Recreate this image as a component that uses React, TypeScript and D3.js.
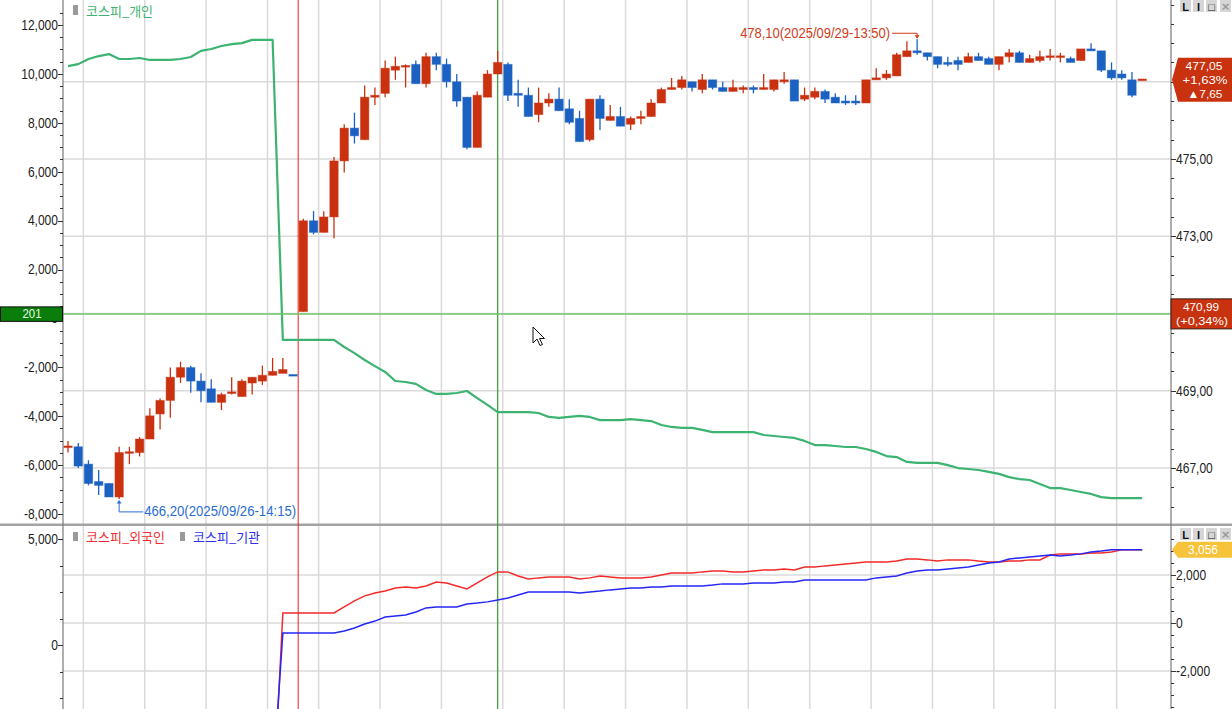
import React from "react";
import * as d3 from "d3";

// ---------------- data ----------------
const day1Date = "2025/09/26";
const day2Date = "2025/09/29";
const day1StartTime = "13:50";
const day2StartTime = "08:50";
const candleMinutes = 5;

// [open, high, low, close]
const day1Ohlc: number[][] = [
  [467.55, 467.7, 467.4, 467.55],
  [467.55, 467.65, 467.0, 467.05],
  [467.1, 467.2, 466.55, 466.6],
  [466.65, 466.95, 466.3, 466.55],
  [466.6, 466.6, 466.25, 466.25],
  [466.25, 467.55, 466.2, 467.4],
  [467.4, 467.55, 467.1, 467.4],
  [467.4, 467.8, 467.3, 467.75],
  [467.75, 468.55, 467.75, 468.35],
  [468.4, 468.8, 468.0, 468.75],
  [468.75, 469.6, 468.3, 469.35],
  [469.35, 469.75, 469.2, 469.6],
  [469.6, 469.65, 468.95, 469.25],
  [469.25, 469.45, 468.7, 469.0],
  [469.05, 469.3, 468.7, 468.7],
  [468.7, 468.95, 468.5, 468.9],
  [468.95, 469.35, 468.9, 468.95],
  [468.85, 469.3, 468.85, 469.25],
  [469.2, 469.35, 468.9, 469.35],
  [469.25, 469.65, 469.15, 469.4],
  [469.4, 469.85, 469.4, 469.5],
  [469.45, 469.85, 469.45, 469.55],
  [469.4, 469.4, 469.4, 469.4],
];

const day2Ohlc: number[][] = [
  [471.05, 473.45, 471.05, 473.4],
  [473.4, 473.65, 473.05, 473.1],
  [473.1, 473.65, 473.1, 473.5],
  [473.5, 475.05, 472.95, 474.95],
  [474.95, 475.9, 474.65, 475.8],
  [475.8, 476.2, 475.4, 475.6],
  [475.5, 476.9, 475.5, 476.6],
  [476.6, 476.85, 476.4, 476.65],
  [476.7, 477.55, 476.6, 477.35],
  [477.3, 477.65, 477.05, 477.4],
  [477.4, 477.45, 476.85, 477.4],
  [477.45, 477.55, 476.95, 476.95],
  [476.95, 477.75, 476.85, 477.65],
  [477.65, 477.75, 477.3, 477.45],
  [477.45, 477.6, 476.85, 477.0],
  [477.0, 477.2, 476.35, 476.5],
  [476.6, 476.6, 475.25, 475.3],
  [475.3, 476.75, 475.3, 476.65],
  [476.6, 477.3, 476.6, 477.2],
  [477.2, 477.8, 477.2, 477.5],
  [477.45, 477.5, 476.5, 476.65],
  [476.7, 477.05, 476.35, 476.65],
  [476.65, 476.85, 476.1, 476.1],
  [476.15, 476.85, 475.95, 476.45],
  [476.45, 476.7, 476.35, 476.55],
  [476.55, 476.85, 476.25, 476.25],
  [476.3, 476.55, 475.9, 475.95],
  [476.05, 476.25, 475.45, 475.45],
  [475.5, 476.55, 475.45, 476.55],
  [476.55, 476.65, 475.75, 476.05],
  [476.0, 476.4, 476.0, 476.1],
  [476.1, 476.35, 475.85, 475.85],
  [475.9, 476.1, 475.75, 476.05],
  [476.05, 476.25, 475.9, 476.1],
  [476.1, 476.55, 476.1, 476.45],
  [476.45, 476.85, 476.45, 476.8],
  [476.8, 477.1, 476.8, 476.85],
  [476.85, 477.15, 476.8, 477.05],
  [477.0, 477.0, 476.75, 476.85],
  [476.8, 477.2, 476.7, 477.05],
  [477.05, 477.05, 476.8, 476.85],
  [476.85, 477.0, 476.75, 476.75],
  [476.75, 477.05, 476.75, 476.85],
  [476.8, 476.9, 476.7, 476.85],
  [476.85, 476.9, 476.7, 476.8],
  [476.8, 477.2, 476.8, 476.85],
  [476.8, 477.05, 476.75, 477.05],
  [477.0, 477.25, 476.95, 477.05],
  [477.05, 477.05, 476.5, 476.5],
  [476.55, 476.85, 476.5, 476.65],
  [476.6, 476.85, 476.55, 476.75],
  [476.75, 476.8, 476.45, 476.55],
  [476.6, 476.7, 476.45, 476.45],
  [476.5, 476.65, 476.4, 476.45],
  [476.5, 476.65, 476.4, 476.45],
  [476.45, 477.05, 476.45, 477.05],
  [477.05, 477.35, 477.05, 477.1],
  [477.1, 477.3, 477.05, 477.2],
  [477.15, 477.75, 477.15, 477.7],
  [477.65, 478.05, 477.65, 477.8],
  [477.8, 478.1, 477.7, 477.75],
  [477.75, 477.75, 477.55, 477.65],
  [477.65, 477.65, 477.35, 477.45],
  [477.5, 477.65, 477.4, 477.45],
  [477.55, 477.65, 477.3, 477.45],
  [477.5, 477.75, 477.5, 477.65],
  [477.65, 477.75, 477.55, 477.55],
  [477.6, 477.65, 477.45, 477.45],
  [477.45, 477.65, 477.3, 477.65],
  [477.65, 477.85, 477.5, 477.75],
  [477.75, 477.8, 477.5, 477.5],
  [477.5, 477.7, 477.5, 477.6],
  [477.55, 477.8, 477.5, 477.65],
  [477.65, 477.85, 477.55, 477.65],
  [477.65, 477.75, 477.5, 477.65],
  [477.6, 477.65, 477.5, 477.5],
  [477.55, 477.85, 477.55, 477.85],
  [477.85, 478.0, 477.8, 477.8],
  [477.8, 477.8, 477.25, 477.3],
  [477.3, 477.5, 477.05, 477.1],
  [477.2, 477.3, 477.05, 477.1],
  [477.05, 477.25, 476.6, 476.65],
  [477.05, 477.05, 477.05, 477.05],
];

// 코스피_개인 (cumulative net, one value per candle slot)
const individualNet: number[] = [
  10320, 10400, 10610, 10730, 10810, 10610, 10610, 10650, 10570, 10570, 10570,
  10610, 10690, 10940, 11020, 11140, 11220, 11260, 11390, 11390, 11390,
  -880, -880, -880, -880, -880, -880, -1170, -1420, -1700, -1950, -2190, -2560,
  -2600, -2680, -2930, -3090, -3090, -3050, -2970, -3260, -3540, -3830, -3830,
  -3830, -3830, -3870, -4030, -4070, -4030, -3990, -4030, -4160, -4160, -4160,
  -4120, -4160, -4200, -4360, -4440, -4480, -4480, -4560, -4650, -4650, -4650,
  -4650, -4650, -4770, -4810, -4850, -4890, -5010, -5180, -5180, -5220, -5260,
  -5260, -5340, -5460, -5630, -5670, -5870, -5910, -5910, -5910, -6000, -6120,
  -6160, -6200, -6280, -6360, -6490, -6570, -6610, -6770, -6940, -6940, -7020,
  -7100, -7180, -7310, -7350, -7350, -7350, -7350,
];

// 코스피_외국인
const foreignNet: number[] = [
  -7600, -7700, -7800, -7900, -8000, -8100, -8000, -7900, -7800, -7800, -7900,
  -8000, -8100, -8100, -8000, -8050, -8100, -8100, -8150, -8100, -8100,
  420, 420, 420, 420, 420, 420, 670, 920, 1130, 1250, 1330, 1460, 1500, 1460,
  1540, 1710, 1670, 1540, 1420, 1670, 1920, 2130, 2130, 1960, 1830, 1880, 1920,
  1920, 1920, 1830, 1880, 1960, 1920, 1880, 1880, 1880, 1920, 2000, 2080, 2080,
  2080, 2130, 2170, 2170, 2130, 2130, 2170, 2210, 2210, 2250, 2210, 2330, 2330,
  2380, 2420, 2460, 2500, 2540, 2540, 2540, 2580, 2670, 2670, 2630, 2580, 2630,
  2630, 2630, 2580, 2540, 2540, 2580, 2580, 2630, 2630, 2830, 2880, 2880, 2880,
  2920, 2920, 2960, 3056, 3056, 3056,
];

// 코스피_기관
const institutionNet: number[] = [
  -6300, -6400, -6500, -6500, -6600, -6700, -6600, -6500, -6500, -6600, -6600,
  -6700, -6700, -6800, -6750, -6700, -6750, -6800, -6800, -6750, -6750,
  -420, -420, -420, -420, -420, -420, -330, -210, -40, 80, 250, 290, 330, 460,
  630, 670, 670, 670, 790, 830, 880, 960, 1040, 1170, 1290, 1290, 1290, 1290,
  1290, 1250, 1290, 1330, 1380, 1420, 1460, 1460, 1500, 1500, 1540, 1540, 1540,
  1540, 1580, 1630, 1630, 1630, 1670, 1670, 1670, 1710, 1710, 1790, 1790, 1790,
  1790, 1790, 1790, 1790, 1880, 1920, 1960, 2080, 2170, 2210, 2210, 2250, 2290,
  2330, 2420, 2500, 2540, 2670, 2710, 2750, 2790, 2830, 2790, 2830, 2880, 2960,
  3000, 3056, 3056, 3056, 3056,
];

const individualTicks = [-8000, -6000, -4000, -2000, 0, 2000, 4000, 6000, 8000, 10000, 12000];
const priceTicks = [467, 469, 471, 473, 475, 477];
const flowRightTicks = [-2000, 0, 2000];
const flowLeftTicks = [0, 5000];

const crossPrice = 470.99;
const crossIndividual = 201;
const lastFlow = 3056;

// ---------------- helpers ----------------
const DEC = ",";
const fmtP = (v: number) => d3.format(".2f")(v).replace(".", DEC);
const fmtI = (v: number) => d3.format(",")(v).replace("\u2212", "-");

function buildKeys(date: string, start: string, n: number) {
  const [h, m] = start.split(":").map(Number);
  return d3.range(n).map((i) => {
    const t = h * 60 + m + i * candleMinutes;
    const hh = String(Math.floor(t / 60)).padStart(2, "0");
    const mm = String(t % 60).padStart(2, "0");
    return `${date}-${hh}:${mm}`;
  });
}

const FONT = "'Liberation Sans', Arial, sans-serif";
const KFONT = "'Noto Sans CJK KR', 'Noto Sans', sans-serif";

function SText(props: {
  x: number; y: number; children: any; anchor?: string; size?: number; sx?: number; fill?: string;
}) {
  const { x, y, children, anchor = "start", size = 14, sx = 0.86, fill = "#222" } = props;
  return (
    <text
      transform={`translate(${x},${y}) scale(${sx},1)`}
      textAnchor={anchor as any}
      dominantBaseline="central"
      fontSize={size}
      fontFamily={FONT}
      fill={fill}
    >
      {children}
    </text>
  );
}

function LText(props: {
  x: number; y: number; w: number; children: any; anchor?: string; size?: number; fill?: string;
}) {
  const { x, y, w, children, anchor = "start", size = 14, fill = "#fff" } = props;
  return (
    <text
      x={x}
      y={y}
      textAnchor={anchor as any}
      dominantBaseline="central"
      fontSize={size}
      fontFamily={FONT}
      fill={fill}
      textLength={w}
      lengthAdjust="spacingAndGlyphs"
    >
      {children}
    </text>
  );
}

export default function App() {
  const W = 1232;
  const H = 709;
  const left = 63;
  const right = 1171;
  const topBottom = 524;
  const botTop = 526;

  const keys = [
    ...buildKeys(day1Date, day1StartTime, day1Ohlc.length),
    ...buildKeys(day2Date, day2StartTime, day2Ohlc.length),
  ];
  const candles = [...day1Ohlc, ...day2Ohlc].map((d, i) => ({
    key: keys[i], o: d[0], h: d[1], l: d[2], c: d[3],
  }));

  const x = d3.scalePoint<string>().domain(keys).range([68, 1142.2]);
  const step = x.step();
  const priceY = d3.scaleLinear().domain([467, 475]).range([468, 159]);
  const indivY = d3.scaleLinear().domain([-8000, 12000]).range([514, 25]);
  const flowY = d3.scaleLinear().domain([-2000, 2000]).range([671, 575]);
  const flowLeftY = d3.scaleLinear().domain([0, 5000]).range([645, 539]);

  const UP = "#c9310f";
  const DOWN = "#1b61c1";
  const colorOf = (i: number) => {
    const d = candles[i];
    if (d.c > d.o) return UP;
    if (d.c < d.o) return DOWN;
    if (i === 0) return UP;
    return d.c >= candles[i - 1].c ? UP : DOWN;
  };

  // vertical grid lines: at :00 and :30 candle boundaries (not at day starts)
  const gridX: number[] = [];
  keys.forEach((k, i) => {
    const mm = Number(k.slice(-2));
    const sameDay = i > 0 && keys[i - 1].slice(0, 10) === k.slice(0, 10);
    if (sameDay && mm % 30 === 0) gridX.push((x(k) as number) - step / 2);
  });
  const dayBreak =
    ((x(keys[day1Ohlc.length - 1]) as number) + (x(keys[day1Ohlc.length]) as number)) / 2;
  const crossX = x(keys[42]) as number;
  const crossY = priceY(crossPrice);

  const indivLine = d3
    .line<number>()
    .x((_, i) => x(keys[i]) as number)
    .y((d) => indivY(d));
  const flowLine = d3
    .line<number>()
    .x((_, i) => x(keys[i]) as number)
    .y((d) => flowY(d));

  // extremes
  let maxIdx = 0, minIdx = 0;
  candles.forEach((d, i) => {
    if (d.h > candles[maxIdx].h) maxIdx = i;
    if (d.l < candles[minIdx].l) minIdx = i;
  });
  const hx = x(keys[maxIdx]) as number;
  const hy = priceY(candles[maxIdx].h);
  const lx = x(keys[minIdx]) as number;
  const ly = priceY(candles[minIdx].l);

  const prevClose = day1Ohlc[day1Ohlc.length - 1][3];
  const last = candles[candles.length - 1].c;
  const chg = last - prevClose;
  const pct = (last / prevClose - 1) * 100;
  const crossPct = (crossPrice / prevClose - 1) * 100;
  const lastY = priceY(last);
  const flowTagY = flowY(lastFlow);

  // price labels hidden behind the right-hand tags are not drawn
  const visiblePriceTicks = priceTicks.filter((p) => {
    const y = priceY(p);
    return Math.abs(y - lastY) > 24 && Math.abs(y - crossY) > 17;
  });

  // axis ticks
  const leftTopTicks = d3.range(-8500, 13500, 500).filter((v) => {
    const y = indivY(v);
    return y >= 2 && y <= topBottom - 2;
  });
  const rightTopTicks = d3.range(465, 480.01, 0.5).filter((v) => {
    const y = priceY(v);
    return y >= 2 && y <= topBottom - 2;
  });
  const rightBotTicks = d3.range(-4000, 4001, 500).filter((v) => {
    const y = flowY(v);
    return y >= botTop + 2 && y <= H;
  });
  const leftBotTicks = d3.range(-5000, 7501, 1250).filter((v) => {
    const y = flowLeftY(v);
    return y >= botTop + 2 && y <= H;
  });

  const icons = ["L", "I", "\u25a1", "\u00d7"];
  const iconX = [1180, 1193, 1206, 1220];

  return (
    <svg
      width={W}
      height={H}
      style={{ position: "absolute", left: 0, top: 0, background: "#fff" }}
    >
      <defs>
        <clipPath id="clipTop">
          <rect x={left} y={0} width={right - left} height={topBottom} />
        </clipPath>
        <clipPath id="clipBot">
          <rect x={left} y={botTop} width={right - left} height={H - botTop} />
        </clipPath>
      </defs>
      <rect x={0} y={0} width={W} height={H} fill="#fff" />

      {/* grid */}
      <g stroke="#dadada" strokeWidth={1.5}>
        {gridX.map((gx, i) => (
          <line key={"gv" + i} x1={gx} x2={gx} y1={0} y2={H} />
        ))}
        {priceTicks.map((p) => (
          <line key={"gp" + p} x1={left} x2={right} y1={priceY(p)} y2={priceY(p)} />
        ))}
        {flowRightTicks.map((v) => (
          <line key={"gf" + v} x1={left} x2={right} y1={flowY(v)} y2={flowY(v)} />
        ))}
      </g>

      {/* panel separator */}
      <rect x={0} y={523.5} width={W} height={2.5} fill="#a3a3a3" />

      {/* day separator & crosshair vertical */}
      <line x1={dayBreak} x2={dayBreak} y1={0} y2={H} stroke="#e8201a" strokeWidth={1} />
      <line x1={crossX} x2={crossX} y1={0} y2={H} stroke="#2f9a2f" strokeWidth={1.2} />

      {/* individual line */}
      <g clipPath="url(#clipTop)">
        <path d={indivLine(individualNet) || ""} fill="none" stroke="#3cb371" strokeWidth={2.2} strokeLinejoin="round" />
      </g>

      {/* candles */}
      <g clipPath="url(#clipTop)">
        {candles.map((d, i) => {
          const cx = x(d.key) as number;
          const col = colorOf(i);
          const yTop = priceY(Math.max(d.o, d.c));
          const yBot = priceY(Math.min(d.o, d.c));
          const hgt = Math.max(1.6, yBot - yTop);
          return (
            <g key={"c" + i}>
              <line x1={cx} x2={cx} y1={priceY(d.h)} y2={priceY(d.l)} stroke={col} strokeWidth={1.3} />
              <rect
                x={cx - 4.2}
                y={hgt === 1.6 ? yTop - 0.8 : yTop}
                width={8.4}
                height={hgt}
                fill={col}
                stroke={col}
                strokeOpacity={0.45}
                strokeWidth={1}
              />
            </g>
          );
        })}
      </g>

      {/* crosshair horizontal */}
      <line x1={left} x2={right} y1={crossY} y2={crossY} stroke="#6cc86c" strokeWidth={1.5} />

      {/* flow lines */}
      <g clipPath="url(#clipBot)">
        <path d={flowLine(foreignNet) || ""} fill="none" stroke="#f42a2a" strokeWidth={1.5} />
        <path d={flowLine(institutionNet) || ""} fill="none" stroke="#2626f5" strokeWidth={1.5} />
      </g>

      {/* axes */}
      <line x1={left} x2={left} y1={0} y2={H} stroke="#7a7a7a" strokeWidth={1.2} />
      <line x1={right} x2={right} y1={0} y2={H} stroke="#7a7a7a" strokeWidth={1.2} />

      <g stroke="#333" strokeWidth={1}>
        {leftTopTicks.map((v) => {
          const y = Math.round(indivY(v)) + 0.5;
          const major = v % 2000 === 0;
          return <line key={"lt" + v} x1={left - (major ? 5 : 3)} x2={left} y1={y} y2={y} />;
        })}
        {rightTopTicks.map((v) => {
          const y = Math.round(priceY(v)) + 0.5;
          const major = priceTicks.includes(v);
          return <line key={"rt" + v} x1={right} x2={right + (major ? 5 : 3)} y1={y} y2={y} />;
        })}
        {rightBotTicks.map((v) => {
          const y = Math.round(flowY(v)) + 0.5;
          const major = v % 2000 === 0;
          return <line key={"rb" + v} x1={right} x2={right + (major ? 5 : 3)} y1={y} y2={y} />;
        })}
        {leftBotTicks.map((v) => {
          const y = Math.round(flowLeftY(v)) + 0.5;
          const major = v % 5000 === 0;
          return <line key={"lb" + v} x1={left - (major ? 5 : 3)} x2={left} y1={y} y2={y} />;
        })}
      </g>

      {individualTicks.map((v) => (
        <SText key={"lti" + v} x={58} y={indivY(v)} anchor="end">{fmtI(v)}</SText>
      ))}
      {visiblePriceTicks.map((v) => (
        <SText key={"rti" + v} x={1176} y={priceY(v)}>{fmtP(v)}</SText>
      ))}
      {flowRightTicks.map((v) => (
        <SText key={"rbi" + v} x={1176} y={flowY(v)}>{fmtI(v)}</SText>
      ))}
      {flowLeftTicks.map((v) => (
        <SText key={"lbi" + v} x={58} y={flowLeftY(v)} anchor="end">{fmtI(v)}</SText>
      ))}

      {/* extreme annotations */}
      <g>
        <LText x={hx - 27} y={hy - 6.5} w={150} anchor="end" size={14} fill="#d03c19">
          {`${fmtP(candles[maxIdx].h)}(${keys[maxIdx]})`}
        </LText>
        <line x1={hx - 25} x2={hx} y1={hy - 6} y2={hy - 6} stroke="#d03c19" strokeWidth={1} />
        <line x1={hx} x2={hx} y1={hy - 6} y2={hy - 3} stroke="#d03c19" strokeWidth={1} />
        <path d={`M${hx - 2.5},${hy - 4} L${hx + 2.5},${hy - 4} L${hx},${hy - 0.5} Z`} fill="#d03c19" />

        <path d={`M${lx - 2.5},${ly + 4.5} L${lx + 2.5},${ly + 4.5} L${lx},${ly + 1} Z`} fill="#2a6dd4" />
        <line x1={lx} x2={lx} y1={ly + 4} y2={ly + 13} stroke="#2a6dd4" strokeWidth={1} />
        <line x1={lx} x2={lx + 24} y1={ly + 13} y2={ly + 13} stroke="#2a6dd4" strokeWidth={1} />
        <LText x={lx + 25} y={ly + 12.5} w={152} size={14} fill="#2a6dd4">
          {`${fmtP(candles[minIdx].l)}(${keys[minIdx]})`}
        </LText>
      </g>

      {/* legends */}
      <rect x={73} y={5} width={5} height={10} fill="#9a9a9a" />
      <text x={86} y={10} dominantBaseline="central" fontSize={13} fontFamily={KFONT} fill="#3cb371">
        코스피_개인
      </text>
      <rect x={73} y={532} width={5} height={9} fill="#9a9a9a" />
      <text x={86} y={536} dominantBaseline="central" fontSize={13} fontFamily={KFONT} fill="#f03030">
        코스피_외국인
      </text>
      <rect x={180} y={532} width={5} height={9} fill="#9a9a9a" />
      <text x={193} y={536} dominantBaseline="central" fontSize={13} fontFamily={KFONT} fill="#2f2ff0">
        코스피_기관
      </text>

      {/* left crosshair badge */}
      <rect x={0.5} y={crossY - 7} width={62} height={14.5} fill="#0b7d0b" stroke="#111" strokeWidth={1} />
      <LText x={32} y={crossY} w={19} anchor="middle" size={12} fill="#e8ffe8">
        {String(crossIndividual)}
      </LText>

      {/* right crosshair tag */}
      <rect x={1171} y={crossY - 15} width={62} height={30} fill="#c8320e" stroke="#3a1a10" strokeWidth={1} />
      <LText x={1201} y={crossY - 7} w={36} anchor="middle" size={11.5}>
        {fmtP(crossPrice)}
      </LText>
      <LText x={1202} y={crossY + 7.5} w={52} anchor="middle" size={11.5}>
        {`(+${fmtP(crossPct)}%)`}
      </LText>

      {/* current price tag */}
      <path
        d={`M1172,${lastY} L1178,${lastY - 22} L1232,${lastY - 22} L1232,${lastY + 22} L1178,${lastY + 22} Z`}
        fill="#c8320e"
      />
      <LText x={1204} y={lastY - 14} w={37} anchor="middle" size={11.5}>
        {fmtP(last)}
      </LText>
      <LText x={1205} y={lastY + 0.5} w={45} anchor="middle" size={11.5}>
        {`+${fmtP(pct)}%`}
      </LText>
      <LText x={1205} y={lastY + 14.5} w={35} anchor="middle" size={11.5}>
        {`\u25b2${fmtP(chg)}`}
      </LText>

      {/* flow tag */}
      <path
        d={`M1172,${flowTagY} L1178,${flowTagY - 8} L1232,${flowTagY - 8} L1232,${flowTagY + 8} L1178,${flowTagY + 8} Z`}
        fill="#f6c33a"
      />
      <LText x={1203} y={flowTagY} w={30} anchor="middle" size={12}>
        {fmtI(lastFlow)}
      </LText>

      {/* panel icons */}
      {[0, 528].map((oy) =>
        icons.map((t, i) => (
          <g key={"ic" + oy + i}>
            <rect x={iconX[i]} y={oy} width={11} height={12} fill="#d6d6d6" />
            <text
              x={iconX[i] + 5.5}
              y={oy + 6.5}
              textAnchor="middle"
              dominantBaseline="central"
              fontSize={i === 3 ? 13 : 11}
              fontWeight="bold"
              fontFamily={FONT}
              fill={i === 3 ? "#9a9a9a" : "#111"}
            >
              {t}
            </text>
          </g>
        ))
      )}

      {/* mouse pointer */}
      <path
        d="M533,327 L533,343 L537,339 L540,345.5 L542.5,344.5 L539.5,338.5 L544.5,338.5 Z"
        fill="#fff"
        stroke="#111"
        strokeWidth={1}
        strokeLinejoin="round"
      />
    </svg>
  );
}
